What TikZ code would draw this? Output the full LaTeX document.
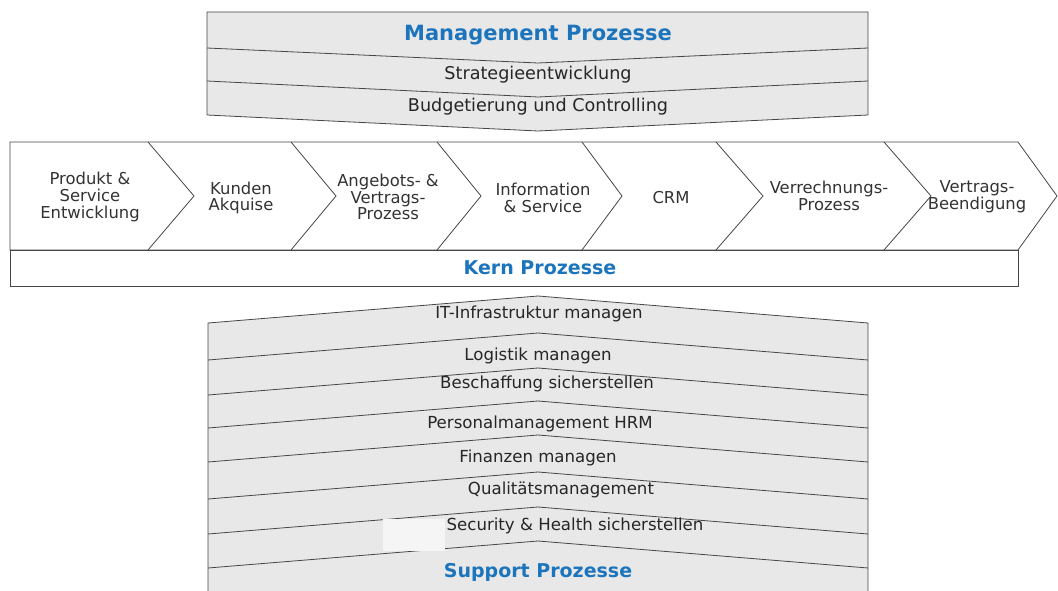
\documentclass[tikz,border=0pt]{standalone}
\usepackage{fontspec}
\setmainfont{DejaVu Sans}
\usetikzlibrary{positioning}
\definecolor{procblue}{RGB}{28,117,188}
\definecolor{bandgray}{RGB}{232,232,232}
\definecolor{edgegray}{RGB}{70,70,70}

\begin{document}
\begin{tikzpicture}[x=1pt,y=-1pt,
    outline/.style={draw=edgegray, line width=0.8pt},
    bandtext/.style={font=\fontsize{16.6}{18}\selectfont, text=black!85},
    mgmttext/.style={bandtext, font=\fontsize{17.6}{19}\selectfont},
    proctext/.style={font=\fontsize{16.4}{16.6}\selectfont, align=center, text=black!80},
    headtext/.style={font=\fontsize{19}{20}\selectfont\bfseries, text=procblue}]
  \useasboundingbox (0,0) rectangle (1058,591);
  % Management block
  \filldraw[outline, fill=bandgray] (207,12) -- (868,12) -- (868,115) -- (538,131) -- (207,115) -- cycle;
  \draw[outline] (207,48) -- (538,63) -- (868,48);
  \draw[outline] (207,81) -- (538,97) -- (868,81);
  \node (mgmt) at (538,35) [headtext, font=\fontsize{21}{22}\selectfont\bfseries] {Management Prozesse};
  \node (strat) at (538,75) [mgmttext] {Strategieentwicklung};
  \node (budget) at (538,107) [mgmttext] {Budgetierung und Controlling};
  % Core chevrons
  \filldraw[outline, fill=white] (10,142) -- (1018,142) -- (1057,196) -- (1018,250) -- (10,250) -- cycle;
  \draw[outline] (148,142) -- (194,196) -- (148,250);
  \draw[outline] (291,142) -- (336,196) -- (291,250);
  \draw[outline] (437,142) -- (481,196) -- (437,250);
  \draw[outline] (582,142) -- (622,196) -- (582,250);
  \draw[outline] (716,142) -- (763,196) -- (716,250);
  \draw[outline] (884,142) -- (931,196) -- (884,250);
  \node (produkt) at (90,197) [proctext] {Produkt \&\\Service\\Entwicklung};
  \node (kunden) at (241,198) [proctext] {Kunden\\Akquise};
  \node (angebot) at (388,197) [proctext] {Angebots- \&\\Vertrags-\\Prozess};
  \node (info) at (543,198) [proctext] {Information\\\& Service};
  \node (crm) at (671,198) [proctext] {CRM};
  \node (verrech) at (829,196) [proctext] {Verrechnungs-\\Prozess};
  \node (ende) at (977,197) [proctext] {Vertrags-\\Beendigung};
  % Core bar
  \filldraw[outline, fill=white] (10,250) rectangle (1018,286);
  \node (kern) at (540,268) [headtext] {Kern Prozesse};
  % Support block
  \fill[bandgray] (208,323) -- (538,296) -- (868,323) -- (868,591) -- (208,591) -- cycle;
  \draw[outline] (208,591) -- (208,323) -- (538,296) -- (868,323) -- (868,591);
  \draw[outline] (208,360) -- (538,333) -- (868,360);
  \draw[outline] (208,395) -- (538,368) -- (868,395);
  \draw[outline] (208,428) -- (538,401) -- (868,428);
  \draw[outline] (208,462) -- (538,435) -- (868,462);
  \draw[outline] (208,499) -- (538,472) -- (868,499);
  \draw[outline] (208,534) -- (538,507) -- (868,534);
  \draw[outline] (208,568) -- (538,541) -- (868,568);
  \fill[gray!8] (383,519) rectangle (445,551);
  \node (it) at (539,314) [bandtext] {IT-Infrastruktur managen};
  \node (logistik) at (538,356) [bandtext] {Logistik managen};
  \node (beschaff) at (547,384) [bandtext] {Beschaffung sicherstellen};
  \node (personal) at (540,424) [bandtext] {Personalmanagement HRM};
  \node (finanzen) at (538,458) [bandtext] {Finanzen managen};
  \node (quali) at (561,490) [bandtext] {Qualitätsmanagement};
  \node (security) at (575,526) [bandtext] {Security \& Health sicherstellen};
  \node (support) at (538,572) [headtext] {Support Prozesse};
\end{tikzpicture}
\end{document}
